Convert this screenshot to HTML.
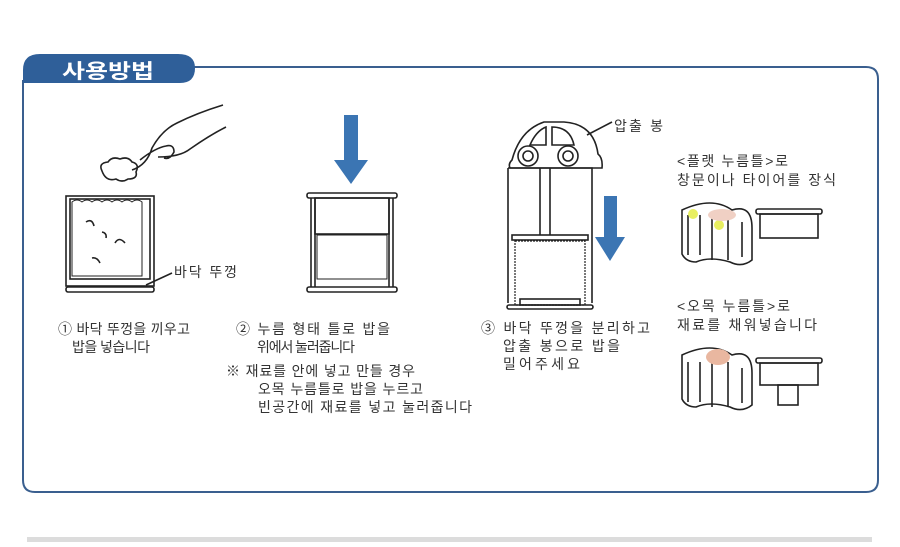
<!DOCTYPE html>
<html><head><meta charset="utf-8"><style>
body{margin:0;background:#fff;width:900px;height:542px;overflow:hidden}
text{font-family:"Liberation Sans","Noto Sans CJK KR",sans-serif;fill:#333;font-size:14px}
</style></head><body>
<svg width="900" height="542" viewBox="0 0 900 542" xmlns="http://www.w3.org/2000/svg">
<rect width="900" height="542" fill="#fff"/>
<path d="M190 67 H866 Q878 67 878 79 V480 Q878 492 866 492 H35 Q23 492 23 480 V80" fill="none" stroke="#3a5f8f" stroke-width="2"/>
<path d="M23 83 V70 Q23 54 40 54 H178 Q195 54 195 68 Q195 83 180 83 Z" fill="#2f5f99"/>
<text x="62" y="78" textLength="92" lengthAdjust="spacingAndGlyphs" style="fill:#fff;font-size:20px;font-weight:bold">사용방법</text>
<rect x="27" y="537" width="845" height="5" fill="#dcdcdc"/>
<g fill="none" stroke="#222" stroke-width="1.6">
<rect x="66" y="196" width="88" height="90"/>
<rect x="70" y="199" width="80" height="80"/>
<path d="M72 202 q5 -4 10 0 q5 -4 10 0 q5 -4 10 0 q5 -4 10 0 q5 -4 10 0 q5 -4 10 0 q5 -4 10 0 V276 H72 Z" stroke-width="1"/>
<rect x="66" y="287" width="88" height="5" rx="2"/>
<path d="M86 222 q6 -4 8 4 M115 243 q4 -7 10 0 M92 258 q5 -1 8 5 M102 232 q5 1 4 6"/>
<path d="M102 171 q-4 -8 6 -9 q4 -6 12 -3 q8 -3 12 3 q8 2 4 10 q2 7 -8 7 q-6 4 -12 0 q-10 3 -14 -8z"/>
<path d="M132 170 q15 -5 20 -22 q10 -18 25 -25 q20 -10 46 -18 M140 160 q15 -12 26 -14 q8 -2 8 6 q-4 8 -10 6 M158 157 q22 0 32 -8 q20 -14 36 -22"/>
<path d="M146 285 L172 273"/>
<rect x="307" y="193" width="90" height="5" rx="2"/>
<path d="M311 198 V287 M393 198 V287 M315 198 V287 M389 198 V287"/>
<rect x="315" y="198" width="74" height="36"/>
<rect x="317" y="235" width="70" height="44" stroke-width="1"/>
<rect x="307" y="287" width="90" height="5" rx="2"/>
<path d="M512 160 q8 -30 32 -38 h20 q30 2 34 32 q5 4 4 14 H510 q-2 -4 2 -8z"/>
<path d="M530 145 q6 -14 16 -18 V145z M552 127 q18 0 22 18 H552z"/>
<circle cx="528" cy="156" r="10"/><circle cx="528" cy="156" r="5"/>
<circle cx="568" cy="156" r="10"/><circle cx="568" cy="156" r="5"/>
<path d="M508 168 H592 V303 M508 168 V303 M540 168 V235 M550 168 V235"/>
<rect x="512" y="235" width="76" height="5"/>
<path d="M515 241 H585 V305 H515 Z" stroke-width="1.2" stroke-dasharray="2 1"/>
<rect x="520" y="299" width="60" height="6"/>
<rect x="507" y="305" width="86" height="4" rx="2"/>
<path d="M587 135 L612 122"/>
<rect x="756" y="209" width="66" height="5" rx="2"/>
<rect x="760" y="214" width="58" height="24"/>
<rect x="756" y="358" width="66" height="5" rx="2"/>
<rect x="760" y="363" width="58" height="22"/>
<rect x="778" y="385" width="20" height="20"/>
<path d="M682 210 q30 -14 50 0 q20 -6 20 18 V260 q-10 8 -22 2 q-20 -6 -34 0 q-10 0 -14 -8z" fill="#fff"/>
<path d="M688 215 v40 M700 215 v40 M712 215 v45 M728 215 v45 M742 222 v35"/>
<path d="M682 355 q30 -14 50 0 q20 -6 20 18 V405 q-10 8 -22 2 q-20 -6 -34 0 q-10 0 -14 -8z" fill="#fff"/>
<path d="M688 362 v40 M700 362 v40 M712 362 v45 M728 362 v45 M742 368 v35"/>
</g>
<circle cx="693" cy="214" r="5" fill="#e8ef60"/><circle cx="719" cy="225" r="5" fill="#e8ef60"/>
<ellipse cx="722" cy="215" rx="14" ry="6" fill="#f0d0c4"/>
<ellipse cx="718" cy="357" rx="12" ry="8" fill="#e9b7a0"/>
<path d="M344 115 H358 V160 H368 L351 184 L334 160 H344Z" fill="#3b75b3"/>
<path d="M604 196 H617 V237 H625 L610 261 L595 237 H604Z" fill="#3b75b3"/>
<g lengthAdjust="spacing">
<text x="174" y="277" textLength="63">바닥 뚜껑</text>
<text x="614" y="131" textLength="49">압출 봉</text>
<text x="58" y="334" textLength="132">① 바닥 뚜껑을 끼우고</text>
<text x="72" y="352" textLength="78">밥을 넣습니다</text>
<text x="236" y="334" textLength="154">② 누름 형태 틀로 밥을</text>
<text x="257" y="352" textLength="98">위에서 눌러줍니다</text>
<text x="226" y="376" textLength="189">※ 재료를 안에 넣고 만들 경우</text>
<text x="258" y="394" textLength="165">오목 누름틀로 밥을 누르고</text>
<text x="258" y="412" textLength="214">빈공간에 재료를 넣고 눌러줍니다</text>
<text x="481" y="333" textLength="169">③ 바닥 뚜껑을 분리하고</text>
<text x="503" y="351" textLength="117">압출 봉으로 밥을</text>
<text x="503" y="369" textLength="77">밀어주세요</text>
<text x="677" y="166" textLength="111">&lt;플랫 누름틀&gt;로</text>
<text x="677" y="185" textLength="159">창문이나 타이어를 장식</text>
<text x="677" y="311" textLength="113">&lt;오목 누름틀&gt;로</text>
<text x="677" y="330" textLength="140">재료를 채워넣습니다</text>
</g>
</svg>
</body></html>
